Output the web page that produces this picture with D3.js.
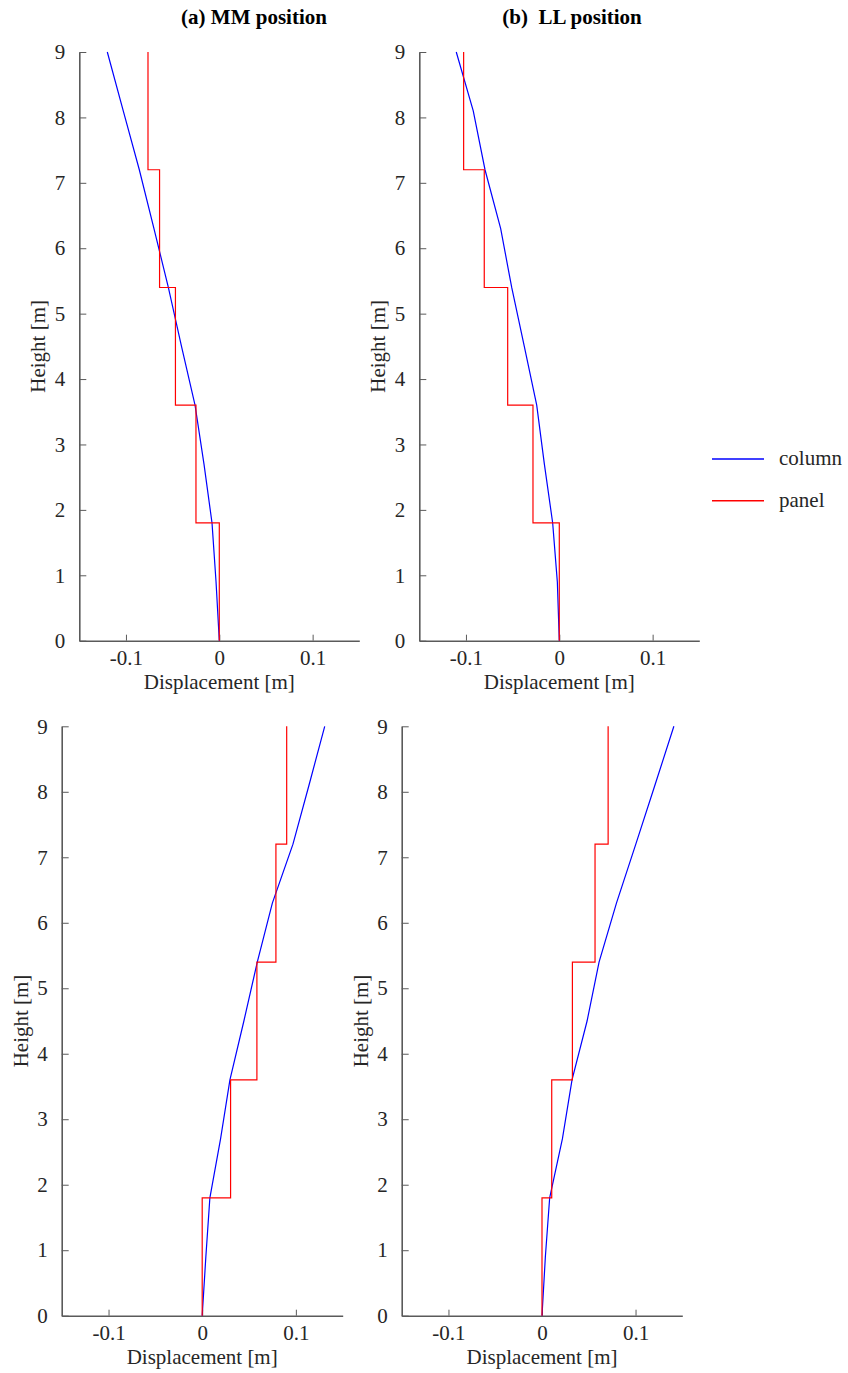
<!DOCTYPE html>
<html>
<head>
<meta charset="utf-8">
<script src="https://cdn.jsdelivr.net/npm/d3@7"></script>
<style>
  html, body { margin: 0; padding: 0; background: #fff; }
  svg { display: block; }
</style>
</head>
<body>
<svg id="chart" width="848" height="1373"></svg>
<script>
// ---- data ----
const columnHeights = [0, 0.9, 1.8, 2.7, 3.6, 4.5, 5.4, 6.3, 7.2, 8.1, 9];
const panelHeights = [0, 1.8, 3.6, 5.4, 7.2, 9];

// (a) MM position, upper
const colA1 = [0, -0.0035, -0.0078, -0.0164, -0.026, -0.0405, -0.0546, -0.070, -0.0857, -0.1029, -0.120];
const panA1 = [0, -0.025, -0.047, -0.064, -0.0764];
// (b) LL position, upper
const colB1 = [0, -0.0021, -0.0071, -0.016, -0.0242, -0.0375, -0.051, -0.0628, -0.0796, -0.0922, -0.1104];
const panB1 = [0, -0.0282, -0.0553, -0.0804, -0.1025];
// (a) MM position, lower
const colA2 = [0, 0.0039, 0.0082, 0.0196, 0.0296, 0.0445, 0.0588, 0.0749, 0.0969, 0.114, 0.1308];
const panA2 = [0, 0.0303, 0.0584, 0.0787, 0.0902];
// (b) LL position, lower
const colB2 = [0, 0.0036, 0.0082, 0.0218, 0.0321, 0.0482, 0.061, 0.0796, 0.1003, 0.1207, 0.141];
const panB2 = [0, 0.0104, 0.0325, 0.0567, 0.0707];

const xTicks = [-0.1, 0, 0.1];
const xTickLabels = ["-0.1", "0", "0.1"];
const yTicks = [0, 1, 2, 3, 4, 5, 6, 7, 8, 9];
const titles = ["(a) MM position", "(b)\u00a0\u00a0LL position"];
const seriesNames = ["column", "panel"];
const xLabel = "Displacement [m]";
const yLabel = "Height [m]";

// ---- layout ----
const FONT = '"Liberation Serif", "Times New Roman", serif';
const panels = [
  {x0: 79.3, x1: 359.3, y0: 52, y1: 640.7, col: colA1, pan: panA1, title: titles[0], titleX: 254},
  {x0: 419.3, x1: 699.3, y0: 52, y1: 640.7, col: colB1, pan: panB1, title: titles[1], titleX: 572},
  {x0: 61.7, x1: 342.7, y0: 726.3, y1: 1315.7, col: colA2, pan: panA2},
  {x0: 401.7, x1: 682.3, y0: 726.3, y1: 1315.7, col: colB2, pan: panB2}
];

const svg = d3.select("#chart");
const colors = {column: "#0000ff", panel: "#ff0000"};
const axisColor = "#5a5a5a";
const textColor = "#262626";

panels.forEach(p => {
  const x = d3.scaleLinear().domain([-0.15, 0.15]).range([p.x0, p.x1]);
  const y = d3.scaleLinear().domain([0, 9]).range([p.y1, p.y0]);
  const g = svg.append("g");

  const xa = g.append("g").attr("transform", `translate(0,${p.y1})`)
    .call(d3.axisBottom(x).tickValues(xTicks).tickFormat((d, i) => xTickLabels[i])
      .tickSizeInner(-6).tickSizeOuter(0).tickPadding(9));
  const ya = g.append("g").attr("transform", `translate(${p.x0},0)`)
    .call(d3.axisLeft(y).tickValues(yTicks).tickFormat(d3.format("d"))
      .tickSizeInner(-7).tickSizeOuter(0).tickPadding(14));
  [xa, ya].forEach(a => {
    a.attr("font-family", null).attr("font-size", null);
    a.select(".domain").attr("stroke", axisColor).attr("stroke-width", 1.6);
    a.selectAll(".tick line").attr("stroke", axisColor).attr("stroke-width", 1);
    a.selectAll(".tick text").style("font-family", FONT).style("font-size", "21px").attr("fill", textColor);
  });

  g.append("text").attr("x", (p.x0 + p.x1) / 2).attr("y", p.y1 + 48)
    .attr("text-anchor", "middle").style("font-family", FONT).style("font-size", "21px")
    .attr("fill", textColor).text(xLabel);
  g.append("text").attr("transform", `translate(${p.x0 - 34},${(p.y0 + p.y1) / 2}) rotate(-90)`)
    .attr("text-anchor", "middle").style("font-family", FONT).style("font-size", "21px")
    .attr("fill", textColor).text(yLabel);

  if (p.title) {
    g.append("text").attr("x", p.titleX).attr("y", 24).attr("text-anchor", "middle")
      .style("font-family", FONT).style("font-size", "21px").style("font-weight", "bold")
      .attr("fill", "#000").text(p.title);
  }

  const line = d3.line().x(d => x(d[0])).y(d => y(d[1]));
  const colPts = columnHeights.map((h, i) => [p.col[i], h]);
  g.append("path").datum(colPts).attr("d", line)
    .attr("fill", "none").attr("stroke", colors.column).attr("stroke-width", 1.2);

  const panPts = [];
  p.pan.forEach((v, i) => { panPts.push([v, panelHeights[i]]); panPts.push([v, panelHeights[i + 1]]); });
  g.append("path").datum(panPts).attr("d", line)
    .attr("fill", "none").attr("stroke", colors.panel).attr("stroke-width", 1.2);
});

// legend
const legendY = [459, 500.7];
seriesNames.forEach((name, i) => {
  svg.append("line").attr("x1", 712).attr("x2", 764).attr("y1", legendY[i]).attr("y2", legendY[i])
    .attr("stroke", colors[name]).attr("stroke-width", 1.5);
  svg.append("text").attr("x", 779).attr("y", legendY[i] + 6)
    .style("font-family", FONT).style("font-size", "21px").attr("fill", textColor).text(name);
});
</script>
</body>
</html>
